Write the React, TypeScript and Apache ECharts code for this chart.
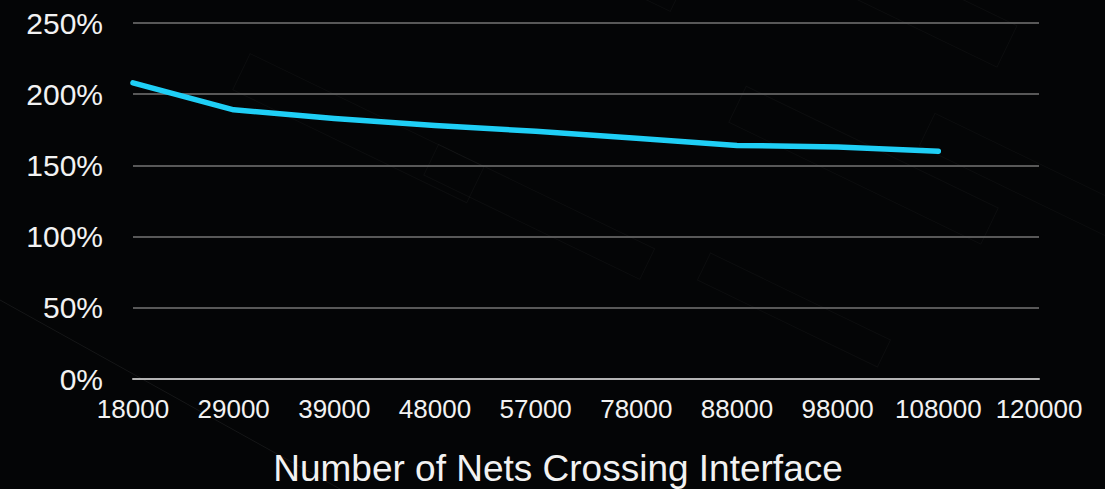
import React, { useEffect, useRef } from "react";
import * as echarts from "echarts";

// Nets crossing the interface, and the measured ratio (%) at each count
const netCounts = ["18000", "29000", "39000", "48000", "57000", "78000", "88000", "98000", "108000", "120000"];
const ratioPct = [208, 189, 183, 178, 174, 169, 164, 163, 160, null];
const yTicks = [0, 50, 100, 150, 200, 250];
const axisTitle = "Number of Nets Crossing Interface";

const FONT = "'Liberation Sans', Arial, Helvetica, sans-serif";

// faint circuit-board style outlines for the backdrop
const boardRects = [
  [180, 120, 260, 40], [420, 60, 220, 36], [620, 150, 300, 46], [760, 40, 180, 30],
  [300, 250, 240, 34], [560, 300, 280, 40], [840, 230, 260, 44], [960, 120, 200, 34],
  [700, 380, 240, 36], [900, 350, 220, 40], [480, 420, 200, 30], [1000, 420, 180, 36],
];

export default function App() {
  const ref = useRef<HTMLDivElement>(null);

  useEffect(() => {
    if (!ref.current) return;
    const chart = echarts.init(ref.current, null, { renderer: "svg" });

    const decor: any[] = boardRects.map(([x, y, w, h]) => ({
      type: "rect",
      x,
      y,
      rotation: -0.45,
      originX: x,
      originY: y,
      shape: { x: 0, y: 0, width: w, height: h },
      style: { fill: "none", stroke: "rgba(255,255,255,0.035)", lineWidth: 1 },
      silent: true,
      z: -10,
    }));
    decor.push({
      type: "line",
      shape: { x1: 0, y1: 300, x2: 340, y2: 489 },
      style: { stroke: "rgba(255,255,255,0.07)", lineWidth: 1 },
      silent: true,
      z: -10,
    });
    decor.push({
      type: "text",
      x: 558,
      y: 468,
      style: {
        text: axisTitle,
        fill: "#f2f2f2",
        font: `37px ${FONT}`,
        textAlign: "center",
        textVerticalAlign: "middle",
      },
    });

    chart.setOption({
      animation: false,
      backgroundColor: "#040506",
      textStyle: { fontFamily: FONT },
      grid: { left: 133, right: 66, top: 23, bottom: 110, containLabel: false },
      xAxis: {
        type: "category",
        data: netCounts,
        boundaryGap: false,
        axisLine: { show: true, lineStyle: { color: "#b4b4b4", width: 2 } },
        axisTick: { show: false },
        splitLine: { show: false },
        axisLabel: {
          color: "#f2f2f2",
          fontSize: 26,
          fontFamily: FONT,
          margin: 17,
          interval: 0,
        },
      },
      yAxis: {
        type: "value",
        min: yTicks[0],
        max: yTicks[yTicks.length - 1],
        interval: 50,
        axisLine: { show: false },
        axisTick: { show: false },
        splitLine: { show: true, lineStyle: { color: "#747474", width: 1.5 } },
        axisLabel: {
          color: "#f2f2f2",
          fontSize: 30,
          fontFamily: FONT,
          margin: 30,
          formatter: (v: number) => `${v}%`,
        },
      },
      series: [
        {
          type: "line",
          data: ratioPct,
          showSymbol: false,
          symbol: "none",
          lineStyle: { color: "#1fcff6", width: 5.5, cap: "round", join: "round" },
          z: 5,
        },
      ],
      graphic: decor,
    });

    return () => chart.dispose();
  }, []);

  return (
    <div
      ref={ref}
      style={{ position: "absolute", left: 0, top: 0, width: 1105, height: 489 }}
    />
  );
}
